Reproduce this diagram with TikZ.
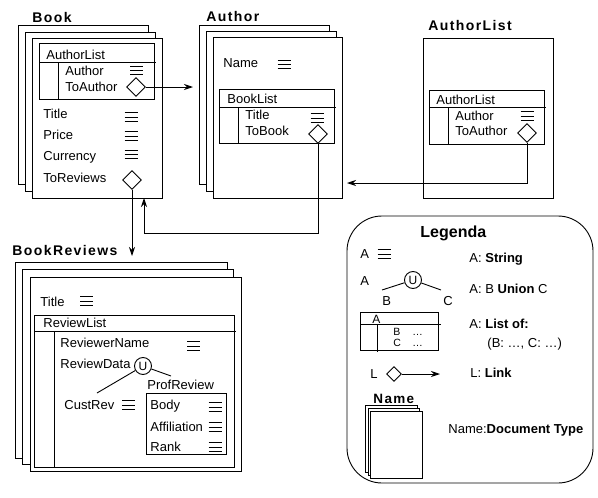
\documentclass[tikz,border=0pt]{standalone}
\usepackage{fontspec}
\setmainfont{Liberation Sans}
\newfontfamily\ttlfont[LetterSpace=10]{Liberation Sans}
\usetikzlibrary{shapes.geometric,arrows.meta}
\begin{document}
\begin{tikzpicture}[x=1pt,y=-1pt,line width=0.9pt,
  page/.style={draw, fill=white, anchor=north west, inner sep=0pt, outer sep=0pt},
  txt/.style={anchor=base west, inner sep=0pt, font=\fontsize{13}{15}\selectfont},
  small/.style={anchor=base west, inner sep=0pt, font=\fontsize{10.5}{12}\selectfont},
  ttl/.style={anchor=base west, inner sep=0pt, font=\fontsize{14}{16}\ttlfont\bfseries},
  dia/.style={draw, diamond, fill=white, minimum size=19pt, inner sep=0pt},
  uni/.style={draw, circle, fill=white, minimum size=17pt, inner sep=0pt, font=\fontsize{12}{14}\selectfont},
  arr/.style={-{Stealth[length=9pt,width=6pt]}},
  eqv/.pic={\draw[line width=0.8pt] (-6.5,-4.2) -- (6.5,-4.2) (-6.5,0) -- (6.5,0) (-6.5,4.2) -- (6.5,4.2);}]
\useasboundingbox (0,0) rectangle (598,498);

% ---------------- Book ----------------
\node[ttl] (tbook) at (32,22) {Book};
\node[page, minimum width=130pt, minimum height=159pt] (bk1) at (18,25) {};
\node[page, minimum width=130pt, minimum height=159pt] (bk2) at (25,32) {};
\node[page, minimum width=130pt, minimum height=160pt] (bk3) at (32,38) {};
\draw (39,43) rectangle (154,99);
\draw (39,62) -- (156,62);
\draw (58,62) -- (58,99);
\node[txt] (bal) at (46,59) {AuthorList};
\node[txt] (bau) at (65,75) {Author};
\node[txt] (btoa) at (65,91) {ToAuthor};
\pic at (136.5,70.5) {eqv};
\node[dia] (bta) at (136,87) {};
\node[txt] (btitle) at (43,118) {Title};
\node[txt] (bprice) at (43,139) {Price};
\node[txt] (bcur) at (43,160) {Currency};
\node[txt] (btor) at (43,182) {ToReviews};
\pic at (131,117) {eqv};
\pic at (131,136) {eqv};
\pic at (131,154.5) {eqv};
\node[dia] (tor) at (132,180) {};

% ---------------- Author ----------------
\node[ttl] (tauthor) at (206,21) {Author};
\node[page, minimum width=130pt, minimum height=159pt] (ab1) at (199,25) {};
\node[page, minimum width=130pt, minimum height=160pt] (ab2) at (206,31) {};
\node[page, minimum width=129pt, minimum height=161pt] (ab3) at (213,37) {};
\node[txt] (aname) at (223,67) {Name};
\pic at (284,64.5) {eqv};
\draw (219,89) rectangle (334,143);
\draw (219,107) -- (336,107);
\draw (238,107) -- (238,144);
\node[txt] (abl) at (227,103) {BookList};
\node[txt] (atit) at (245,119) {Title};
\node[txt] (atob) at (245,135) {ToBook};
\pic at (317,118) {eqv};
\node[dia] (tob) at (318,134) {};

% ---------------- AuthorList ----------------
\node[ttl] (tal) at (428,30) {AuthorList};
\node[page, minimum width=130pt, minimum height=160pt] (al1) at (423,38) {};
\draw (429,90) rectangle (544,144);
\draw (429,107) -- (546,107);
\draw (448,107) -- (448,144);
\node[txt] (lal) at (436,104) {AuthorList};
\node[txt] (lau) at (455,120) {Author};
\node[txt] (ltoa) at (455,135) {ToAuthor};
\pic at (527,116) {eqv};
\node[dia] (ala) at (527,133) {};

% ---------------- BookReviews ----------------
\node[ttl] (tbr) at (12,255) {BookReviews};
\node[page, minimum width=212pt, minimum height=196pt] (br1) at (15,262) {};
\node[page, minimum width=211pt, minimum height=195pt] (br2) at (22,269) {};
\node[page, minimum width=211pt, minimum height=194pt] (br3) at (30,277) {};
\node[txt] (rtitle) at (40,306) {Title};
\pic at (86.5,301) {eqv};
\draw (34,315) rectangle (234,467);
\draw (34,331) -- (236,331);
\draw (54,331) -- (54,468);
\node[txt] (rrl) at (43,327) {ReviewList};
\node[txt] (rrn) at (60,347) {ReviewerName};
\pic at (193.5,346) {eqv};
\node[txt] (rrd) at (60,368) {ReviewData};
\node[uni] (u1) at (143,366) {U};
\coordinate (crl) at (97,393);
\coordinate (prl) at (171,376);
\draw (u1) -- (crl);
\draw (u1) -- (prl);
\node[txt] (rpr) at (147,389) {ProfReview};
\node[txt] (rcr) at (64,409) {CustRev};
\pic at (128.5,405) {eqv};
\draw (146,393) rectangle (226,454);
\node[txt] (rbody) at (150,409) {Body};
\node[txt] (raff) at (150,431) {Affiliation};
\node[txt] (rrank) at (150,451) {Rank};
\pic at (215,407) {eqv};
\pic at (215,427) {eqv};
\pic at (215,447) {eqv};

% ---------------- Links ----------------
\draw[arr, shorten >=6pt] (bta.east) -- (bta.east -| ab1.west);
\coordinate (c1) at (144,233);
\draw[arr] (tob.south) |- (c1) -- (c1 |- bk3.south);
\draw[arr, shorten >=6pt] (tor.south) -- (tor.south |- br1.north);
\coordinate (c2) at (347,183);
\draw[arr] (ala.south) |- (c2);

% ---------------- Legenda ----------------
\node[page, rounded corners=35pt, fill=none, minimum width=246pt, minimum height=267pt] (leg) at (347,216) {};
\node[anchor=base west, inner sep=0pt, font=\fontsize{16}{18}\selectfont\bfseries] (tleg) at (420,237) {Legenda};
\node[txt] (la1) at (360,258) {A};
\pic at (384,254) {eqv};
\node[txt] (ls) at (469,262) {A: \textbf{String}};
\node[txt] (la2) at (360,285) {A};
\node[uni] (u2) at (413,280) {U};
\coordinate (lbl) at (382,290);
\coordinate (lcl) at (441,290);
\draw (u2) -- (lbl);
\draw (u2) -- (lcl);
\node[txt] (lb) at (382,305) {B};
\node[txt] (lc) at (443,305) {C};
\node[txt] (lu) at (469,293) {A: B \textbf{Union} C};
\draw (360,312) rectangle (438,350);
\draw (360,324) -- (441,324);
\draw (377,324) -- (377,352);
\node[small, font=\fontsize{12}{14}\selectfont] (la3) at (372,323) {A};
\node[small] (lb3) at (393,335) {B};
\node[small] (lc3) at (393,346) {C};
\node[small] (ld1) at (412,335) {\dots};
\node[small] (ld2) at (412,346) {\dots};
\node[txt] (llo) at (469,328) {A: \textbf{List of:}};
\node[txt] (lbc) at (487,347) {(B: \dots, C: \dots)};
\node[txt] (ll) at (370,378) {L};
\node[dia, minimum size=15pt] (ldia) at (394,374) {};
\coordinate (lend) at (440,374);
\draw[arr] (ldia.east) -- (lend);
\node[txt] (llink) at (470,377) {L: \textbf{Link}};
\node[anchor=base west, inner sep=0pt, font=\fontsize{13.5}{16}\ttlfont\bfseries] (lname) at (373,403) {Name};
\node[page, minimum width=52pt, minimum height=67pt] (ln1) at (365,405) {};
\node[page, minimum width=51pt, minimum height=67pt] (ln2) at (368,408) {};
\node[page, minimum width=52pt, minimum height=67pt] (ln3) at (370,411) {};
\node[txt] (ldt) at (448,433) {Name:\textbf{Document Type}};
\end{tikzpicture}
\end{document}
